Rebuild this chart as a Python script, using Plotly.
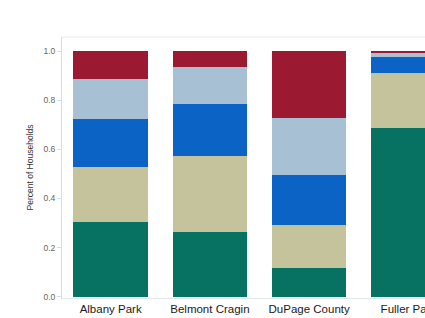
import plotly.graph_objects as go

categories = ["Albany Park", "Belmont Cragin", "DuPage County", "Fuller Park"]
seg1 = [0.306, 0.265, 0.117, 0.686]   # teal (bottom)
seg2 = [0.221, 0.308, 0.176, 0.223]   # khaki
seg3 = [0.195, 0.212, 0.203, 0.068]   # blue
seg4 = [0.163, 0.149, 0.230, 0.018]   # light blue
seg5 = [0.115, 0.066, 0.274, 0.005]   # dark red (top)
series = [seg1, seg2, seg3, seg4, seg5]
colors = ["#087262", "#c4c39b", "#0b63c5", "#a7c0d4", "#9c1a31"]

fig = go.Figure()
for vals, col in zip(series, colors):
    fig.add_trace(go.Bar(x=categories, y=vals, marker=dict(color=col, line=dict(width=0)),
                         width=0.75, showlegend=False))

fig.update_layout(
    barmode="stack",
    width=425, height=318,
    margin=dict(l=62, r=0, t=37, b=20, autoexpand=False),
    paper_bgcolor="white", plot_bgcolor="white",
    font=dict(family="Arial, Liberation Sans, sans-serif"),
    xaxis=dict(range=[-0.49, 3.167], showgrid=False, showline=True, linecolor="#dfe6ea",
               linewidth=1, ticks="", tickfont=dict(size=11.5, color="#1a1a1a"),
               fixedrange=True, automargin=False),
    yaxis=dict(range=[-0.005, 1.057], tickvals=[0, 0.2, 0.4, 0.6, 0.8, 1.0],
               ticktext=["0.0", "0.2", "0.4", "0.6", "0.8", "1.0"],
               showgrid=False, showline=True, linecolor="#cfe0e6", linewidth=1,
               ticks="outside", ticklen=4, tickcolor="#cfe0e6",
               tickfont=dict(size=8.5, color="#666"), automargin=False,
               title=dict(text="Percent of Households", font=dict(size=8.5, color="#333"), standoff=8),
               zeroline=False, fixedrange=True),
    shapes=[dict(type="line", xref="paper", yref="paper", x0=0, x1=1, y0=1, y1=1,
                 line=dict(color="#e6eaec", width=1))],
)

fig.write_html("out.html", config={"displayModeBar": False},
               post_script="document.body.style.margin='0';document.body.style.overflow='hidden';")
